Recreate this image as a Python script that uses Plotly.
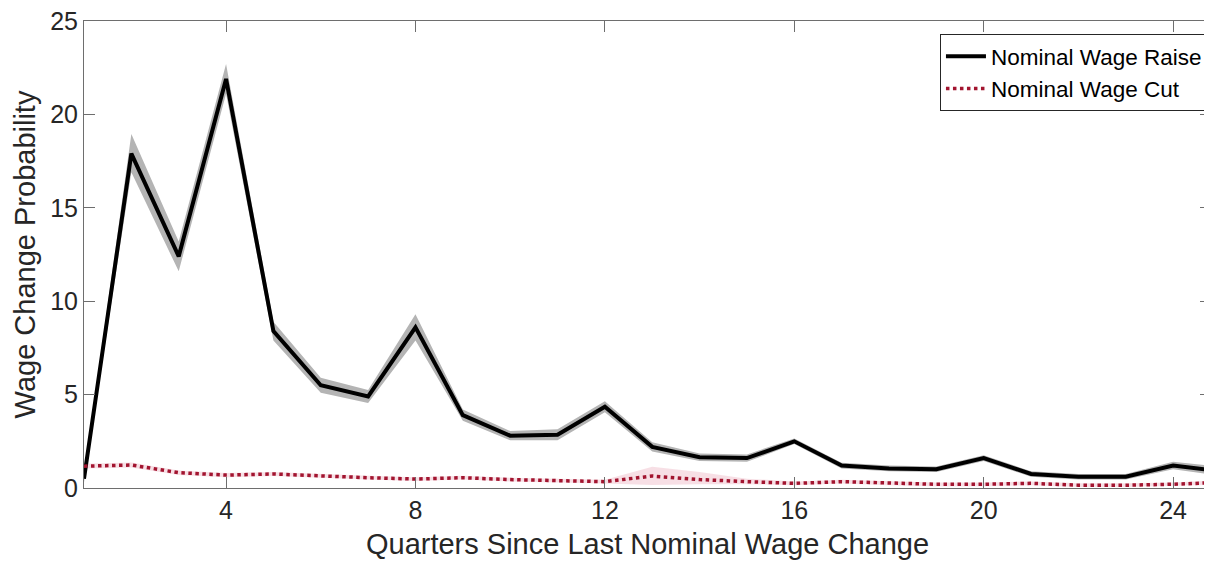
import plotly.graph_objects as go

quarters = list(range(1, 26))
raise_prob = [0.5, 17.9, 12.4, 21.9, 8.4, 5.5, 4.9, 8.6, 3.9, 2.8, 2.85, 4.35, 2.2,
              1.65, 1.6, 2.5, 1.2, 1.05, 1.0, 1.6, 0.75, 0.6, 0.6, 1.2, 0.9]
raise_upper = [0.7, 18.95, 13.2, 22.7, 8.9, 5.9, 5.25, 9.3, 4.2, 3.05, 3.15, 4.65, 2.45,
               1.85, 1.8, 2.65, 1.35, 1.2, 1.15, 1.75, 0.9, 0.75, 0.75, 1.4, 1.15]
raise_lower = [0.3, 16.9, 11.6, 21.1, 7.9, 5.1, 4.55, 7.9, 3.6, 2.55, 2.55, 4.05, 1.95,
               1.45, 1.4, 2.35, 1.05, 0.9, 0.85, 1.45, 0.6, 0.45, 0.45, 1.0, 0.65]
cut_prob = [1.17, 1.23, 0.82, 0.69, 0.75, 0.64, 0.55, 0.48, 0.55, 0.45, 0.38, 0.34, 0.64,
            0.45, 0.34, 0.25, 0.34, 0.25, 0.2, 0.2, 0.25, 0.15, 0.15, 0.2, 0.3]
cut_upper = [1.3, 1.36, 0.94, 0.8, 0.86, 0.75, 0.65, 0.58, 0.65, 0.55, 0.48, 0.44, 1.14,
             0.85, 0.5, 0.35, 0.44, 0.35, 0.3, 0.3, 0.35, 0.25, 0.25, 0.3, 0.42]
cut_lower = [1.04, 1.1, 0.7, 0.58, 0.64, 0.53, 0.45, 0.38, 0.45, 0.35, 0.28, 0.24, 0.16,
             0.2, 0.2, 0.15, 0.24, 0.15, 0.1, 0.1, 0.15, 0.05, 0.05, 0.1, 0.18]
x_ticks = [4, 8, 12, 16, 20, 24]
y_ticks = [0, 5, 10, 15, 20, 25]

FONT = "Liberation Sans, Arial, Helvetica, sans-serif"
TXT = "#262626"
AX = "#6e6e6e"

fig = go.Figure()
fig.add_trace(go.Scatter(x=quarters + quarters[::-1], y=raise_upper + raise_lower[::-1],
                         fill="toself", fillcolor="rgb(180,180,180)", line=dict(width=0),
                         mode="lines", showlegend=False, hoverinfo="skip"))
fig.add_trace(go.Scatter(x=quarters + quarters[::-1], y=cut_upper + cut_lower[::-1],
                         fill="toself", fillcolor="rgba(200,40,80,0.15)", line=dict(width=0),
                         mode="lines", showlegend=False, hoverinfo="skip"))
fig.add_trace(go.Scatter(x=quarters, y=raise_prob, mode="lines", name="Nominal Wage Raise",
                         line=dict(color="black", width=4)))
fig.add_trace(go.Scatter(x=quarters, y=cut_prob, mode="lines", name="Nominal Wage Cut",
                         line=dict(color="#A2142F", width=3.5, dash="dot")))

# page body has an 8px default margin, so the figure is sized/margined to compensate
fig.update_layout(
    width=1204, height=553,
    margin=dict(l=76, r=1, t=13, b=73),
    paper_bgcolor="white", plot_bgcolor="white",
    font=dict(family=FONT, color=TXT, size=20),
    showlegend=True,
    legend=dict(x=0.9973, y=0.972, xanchor="right", yanchor="top",
                bgcolor="white", bordercolor="#262626", borderwidth=1,
                font=dict(size=22.5, color="black"), tracegroupgap=0,
                itemwidth=40),
)
fig.update_xaxes(range=[1, 24.8], tickvals=x_ticks, ticks="inside", ticklen=11,
                 tickcolor=AX, showline=True, linecolor=AX, linewidth=1, mirror="allticks",
                 showgrid=False, zeroline=False, tickfont=dict(size=25, color=TXT),
                 automargin=False, ticklabeloverflow="allow",
                 title=dict(text="Quarters Since Last Nominal Wage Change",
                            font=dict(size=29, color=TXT), standoff=10))
fig.update_yaxes(range=[0, 25], tickvals=y_ticks, ticks="inside", ticklen=11,
                 tickcolor=AX, showline=True, linecolor=AX, linewidth=1, mirror="allticks",
                 showgrid=False, zeroline=False, tickfont=dict(size=25, color=TXT),
                 automargin=False, ticklabeloverflow="allow",
                 title=dict(text="Wage Change Probability",
                            font=dict(size=29, color=TXT), standoff=6))

fig.write_html("out.html")
